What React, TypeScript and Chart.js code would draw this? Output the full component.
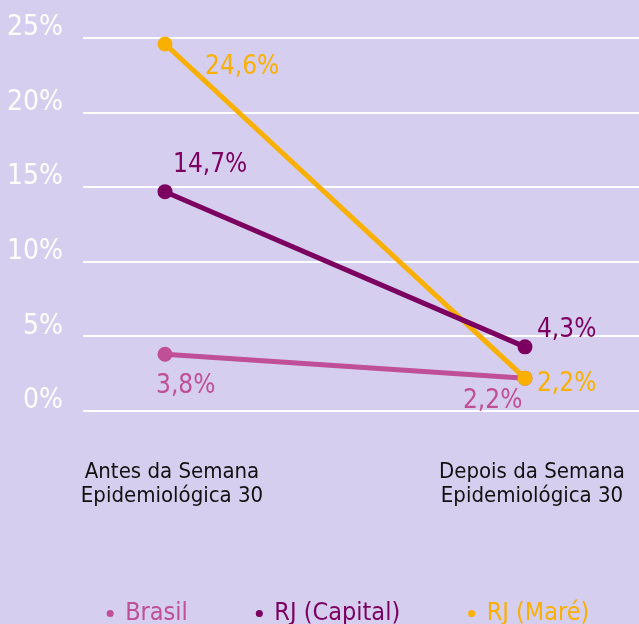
import React, { useEffect, useRef } from "react";
import { Chart, registerables } from "chart.js";

Chart.register(...registerables);

// ---- data ----
const categories: string[][] = [
  ["Antes da Semana", "Epidemiológica 30"],
  ["Depois da Semana", "Epidemiológica 30"],
];
const seriesNames = ["Brasil", "RJ (Capital)", "RJ (Maré)"];
const brasil = [3.8, 2.2];
const rjCapital = [14.7, 4.3];
const rjMare = [24.6, 2.2];
const yTicks = [0, 5, 10, 15, 20, 25];

// ---- styles ----
const BG = "#d6ceef";
const colors = ["#bf4f96", "#7b005f", "#f9b000"];
const drawOrder = [3, 1, 2]; // higher = drawn further below
const FONT = "'DejaVu Sans Condensed', 'Liberation Sans Narrow', 'Roboto', sans-serif";
// per point label offsets [dx, dy] (text left, baseline) relative to point
const labelOffsets: number[][][] = [
  [[-9, 39], [-62, 30]],
  [[8, -20], [12, -10]],
  [[40, 30], [12, 13]],
];
const LEGEND_SHIFT = 29;

const fmt = (v: number) => v.toFixed(1).replace(".", ",") + "%";

const valueLabels = {
  id: "valueLabels",
  afterLayout(chart: any) {
    if (chart.legend) {
      chart.legend.left += LEGEND_SHIFT;
      chart.legend.right += LEGEND_SHIFT;
    }
  },
  afterDatasetsDraw(chart: any) {
    const ctx = chart.ctx;
    ctx.save();
    ctx.font = `26px ${FONT}`;
    ctx.textAlign = "left";
    ctx.textBaseline = "alphabetic";
    chart.data.datasets.forEach((ds: any, di: number) => {
      const meta = chart.getDatasetMeta(di);
      meta.data.forEach((pt: any, i: number) => {
        const off = labelOffsets[di][i];
        ctx.fillStyle = colors[di];
        ctx.fillText(fmt(ds.data[i].y), pt.x + off[0], pt.y + off[1]);
      });
    });
    ctx.restore();
  },
};

export default function App() {
  const ref = useRef<HTMLCanvasElement | null>(null);

  useEffect(() => {
    if (!ref.current) return;
    Chart.defaults.font.family = FONT;
    const series = [brasil, rjCapital, rjMare];
    const chart = new Chart(ref.current, {
      type: "line",
      data: {
        datasets: series.map((vals, si) => ({
          label: seriesNames[si],
          data: vals.map((y, i) => ({ x: i, y })),
          borderColor: colors[si],
          backgroundColor: colors[si],
          pointBackgroundColor: colors[si],
          pointBorderWidth: 0,
          pointRadius: 7.5,
          borderWidth: 5,
          order: drawOrder[si],
          clip: false,
          tension: 0,
        })),
      },
      plugins: [valueLabels],
      options: {
        animation: false,
        responsive: false,
        events: [],
        layout: { autoPadding: false, padding: { left: 0, top: 38, right: 0, bottom: 0 } },
        scales: {
          x: {
            type: "linear",
            min: -0.2278,
            max: 1.3167,
            grid: { display: false, drawTicks: false },
            border: { display: false },
            afterBuildTicks: (s: any) => {
              s.ticks = categories.map((_, i) => ({ value: i }));
            },
            afterFit: (s: any) => {
              s.height = 121;
              s.paddingLeft = 0;
              s.paddingRight = 0;
            },
            ticks: {
              autoSkip: false,
              maxRotation: 0,
              minRotation: 0,
              padding: 50,
              labelOffset: 7,
              color: "#111111",
              font: { size: 22, lineHeight: 1.07 },
              callback: (v: any) => categories[v] ?? "",
            },
          },
          y: {
            min: 0,
            max: 25,
            afterBuildTicks: (s: any) => {
              s.ticks = yTicks.map((v) => ({ value: v }));
            },
            afterFit: (s: any) => {
              s.width = 83;
              s.paddingTop = 0;
              s.paddingBottom = 0;
            },
            grid: { color: "#ffffff", lineWidth: 2, drawTicks: false },
            border: { display: false },
            ticks: {
              color: "#ffffff",
              padding: 20,
              labelOffset: -10,
              font: { size: 28 },
              callback: (v: any) => v + "%",
            },
          },
        },
        plugins: {
          tooltip: { enabled: false },
          legend: {
            position: "bottom",
            labels: {
              usePointStyle: true,
              pointStyle: "circle",
              boxWidth: 5,
              boxHeight: 5,
              padding: 69,
              font: { size: 25 },
              generateLabels: () =>
                seriesNames.map((name, i) => ({
                  text: name,
                  fillStyle: colors[i],
                  strokeStyle: colors[i],
                  fontColor: colors[i],
                  lineWidth: 0,
                  pointStyle: "circle",
                  datasetIndex: i,
                  hidden: false,
                })),
            },
          },
        },
      } as any,
    });
    return () => chart.destroy();
  }, []);

  return (
    <div
      style={{
        position: "absolute",
        left: 0,
        top: 0,
        width: 639,
        height: 624,
        overflow: "hidden",
        background: BG,
      }}
    >
      <canvas ref={ref} width={639} height={636} style={{ width: 639, height: 636, display: "block" }} />
    </div>
  );
}
